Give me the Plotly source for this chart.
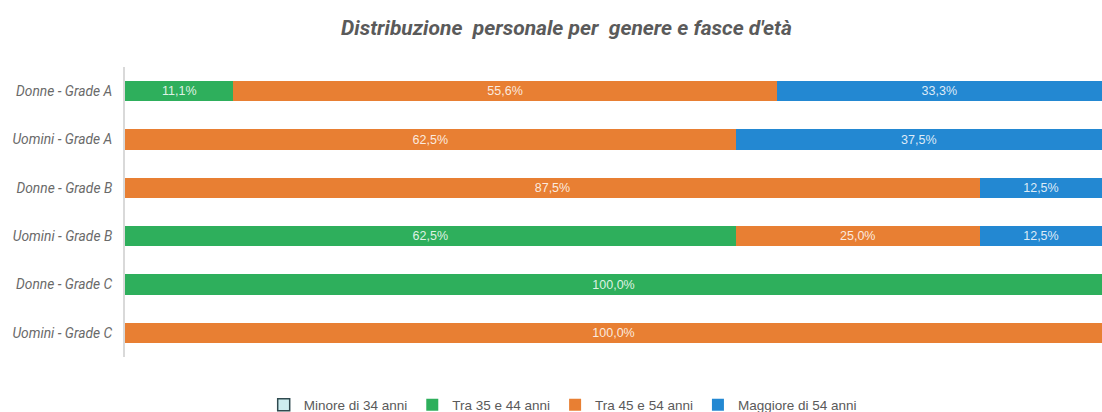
import plotly.graph_objects as go

categories = ["Donne - Grade A", "Uomini - Grade A", "Donne - Grade B",
              "Uomini - Grade B", "Donne - Grade C", "Uomini - Grade C"]
minore_34 = [0, 0, 0, 0, 0, 0]
tra_35_44 = [11.1, 0, 0, 62.5, 100.0, 0]
tra_45_54 = [55.6, 62.5, 87.5, 25.0, 0, 100.0]
maggiore_54 = [33.3, 37.5, 12.5, 12.5, 0, 0]

series = [
    ("Minore di 34 anni", minore_34, "#cdeef0", "#2f4a4f", 1.5),
    ("Tra 35 e 44 anni", tra_35_44, "#2eaf5c", "#2eaf5c", 0),
    ("Tra 45 e 54 anni", tra_45_54, "#e87f33", "#e87f33", 0),
    ("Maggiore di 54 anni", maggiore_54, "#2388d2", "#2388d2", 0),
]

def fmt(v):
    return "" if v == 0 else f"{v:.1f}%".replace(".", ",")

fig = go.Figure()
for name, vals, col, lcol, lw in series:
    fig.add_trace(go.Bar(
        name=name, y=categories, x=vals, orientation="h",
        marker=dict(color=col, line=dict(color=lcol, width=lw)),
        text=[fmt(v) for v in vals], textposition="inside",
        insidetextanchor="middle",
        textfont=dict(color="rgba(255,255,255,0.85)", size=12.5, family="Liberation Sans"),
        hoverinfo="skip",
    ))

fig.update_layout(
    barmode="stack",
    bargap=0.58,
    width=1102, height=412,
    margin=dict(l=125, r=0, t=67, b=55),
    paper_bgcolor="white", plot_bgcolor="white",
    title=dict(text="<b><i>Distribuzione  personale per  genere e fasce d'età</i></b>",
               x=0.514, xanchor="center", y=0.932, yanchor="middle",
               font=dict(family="Roboto", size=21, color="#5a5a5a")),
    xaxis=dict(range=[0, 100], showgrid=False, showticklabels=False,
               zeroline=False, showline=False, fixedrange=True, automargin=False),
    yaxis=dict(autorange="reversed", showline=True, linecolor="#d9d9d9",
               linewidth=2, ticks="", ticklabelstandoff=8, automargin=False,
               tickfont=dict(family="Roboto", size=13.8, color="#6a6a6a", style="italic")),
    legend=dict(orientation="h", x=0.448, xanchor="center",
                yref="container", y=1 - 405 / 412, yanchor="middle",
                font=dict(family="Liberation Sans", size=13.5, color="#5a5a5a"),
                traceorder="normal", itemwidth=30),
    showlegend=True,
)

fig.write_html("out.html", config={"displayModeBar": False},
               post_script="document.body.style.margin='0';document.body.style.overflow='hidden';")
